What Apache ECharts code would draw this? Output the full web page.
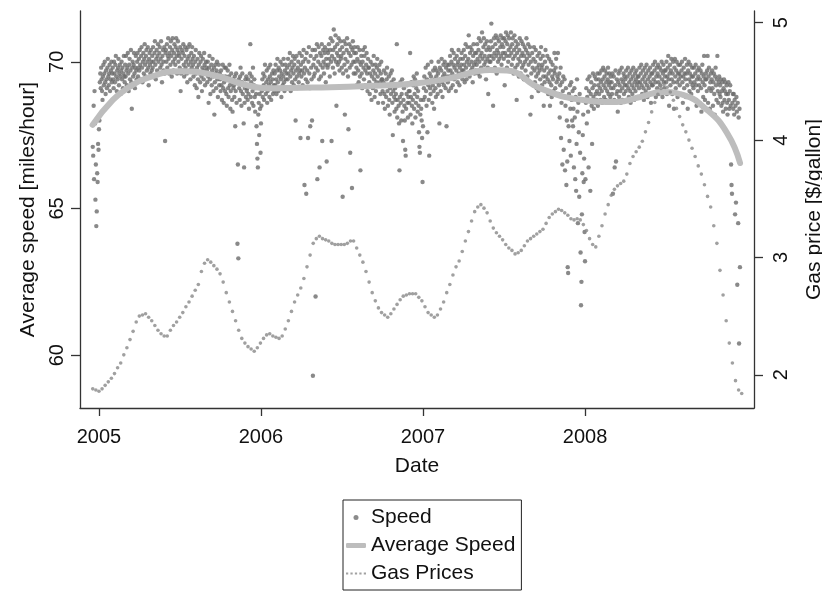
<!DOCTYPE html>
<html><head><meta charset="utf-8">
<script src="https://cdn.jsdelivr.net/npm/echarts@6/dist/echarts.min.js"></script>
<style>html,body{margin:0;padding:0;background:#fff}#c{width:822px;height:595px}</style>
</head><body><div id="c"></div>
<script>
// Daily average speed [mph]
const speedDec2004 = [67.1,66.8,68.5,66.0,69.0,67.9,65.3,66.5,64.4,64.9,66.2,65.9,67.2,67.0];
const speed2005 = [
67.7,68.0,69.3,69.6,69.1,69.8,69.4,69.0,68.7,69.5,69.9,69.2,69.6,70.0,69.3,68.9,69.7,69.4,69.1,69.8,70.1,69.5,69.2,69.6,69.9,69.0,69.4,69.7,70.0,69.3,69.6,
69.8,69.4,69.1,70.0,69.6,69.3,69.9,70.2,69.5,69.0,69.7,69.4,69.8,70.1,69.2,69.6,69.9,69.5,68.9,69.7,70.0,69.4,69.8,69.1,69.6,70.2,69.5,69.3,
69.9,69.5,70.2,69.7,69.2,69.8,70.3,69.6,69.0,69.9,70.1,69.4,69.7,70.4,69.3,68.4,69.8,70.0,69.5,69.9,70.3,69.6,69.1,69.8,70.2,69.7,69.4,70.0,70.3,69.5,69.8,
70.1,69.7,70.4,69.9,69.4,70.2,70.5,69.8,69.3,70.0,70.3,69.6,70.1,70.6,69.9,69.5,70.2,70.4,69.7,70.0,70.5,69.8,69.2,70.1,70.3,69.9,69.6,70.4,70.0,69.7,
70.2,69.8,70.5,70.0,69.5,70.3,70.7,69.9,69.4,70.1,70.4,69.7,70.2,70.6,70.0,69.6,70.3,70.5,69.8,70.1,70.7,69.9,69.3,70.2,70.4,70.0,69.7,70.5,69.6,67.3,70.3,
70.4,70.0,70.6,69.8,70.2,70.8,70.1,69.6,70.3,70.5,69.9,70.7,70.2,69.5,70.4,70.8,70.0,69.7,70.3,70.6,70.1,69.9,70.5,70.8,70.2,69.6,70.4,70.7,70.0,70.3,
70.2,69.8,70.5,69.0,69.6,70.1,70.4,69.7,70.3,70.6,69.9,69.5,70.2,70.5,69.8,70.0,70.4,69.6,69.3,70.1,70.5,69.9,70.2,70.6,69.7,69.4,70.0,70.3,69.8,70.5,70.1,
69.9,69.5,70.2,69.7,69.2,70.0,70.4,69.6,69.1,69.8,70.1,69.4,68.8,69.9,70.3,69.6,69.3,70.0,70.2,69.5,69.0,69.8,70.1,69.7,69.4,70.3,69.9,69.2,69.6,70.0,69.8,
69.7,69.3,70.0,69.5,68.6,69.8,70.2,69.4,68.9,69.6,69.9,69.2,69.7,70.1,69.5,69.0,69.8,68.2,69.3,69.9,69.6,69.1,69.7,70.0,69.4,68.8,69.5,69.9,69.2,69.6,
69.4,69.0,69.7,69.2,68.7,69.5,69.9,69.1,68.6,69.3,69.8,69.0,69.5,69.8,68.9,68.5,69.4,69.7,69.1,68.8,69.5,69.9,69.2,68.4,69.0,69.6,69.3,68.7,68.3,69.4,69.1,
69.2,68.8,69.5,67.8,69.0,69.6,68.6,69.3,63.8,66.5,63.3,69.4,69.1,68.7,69.5,69.8,69.0,68.5,69.3,69.6,68.9,69.2,67.9,66.4,68.6,69.1,69.4,68.8,69.5,69.0,
69.1,68.7,69.4,68.9,68.4,69.2,69.6,70.6,68.8,69.3,69.5,68.6,69.0,69.8,68.5,69.2,69.4,68.8,68.3,69.1,68.9,67.8,67.2,66.7,66.4,68.2,68.6,67.5,68.9,68.4,66.9];
const speed2006 = [
67.9,68.5,69.0,69.4,68.8,69.6,69.2,68.7,69.5,69.9,69.1,68.9,69.3,69.7,68.6,69.0,69.4,69.8,69.2,68.8,69.5,69.9,69.3,68.7,69.1,69.6,69.4,68.9,69.7,69.2,69.0,
69.6,69.2,69.9,69.4,68.9,69.7,70.1,69.3,69.0,69.8,69.5,69.1,69.7,70.0,69.4,68.8,69.6,69.9,69.2,69.5,70.1,69.3,69.0,69.7,69.9,69.4,69.6,69.1,
69.8,69.4,70.1,69.6,69.1,69.9,70.3,69.5,69.0,69.7,70.0,69.3,69.8,70.2,69.6,69.2,69.9,70.1,69.4,68.0,69.7,70.2,69.5,69.1,69.8,70.0,69.3,69.6,70.3,69.7,67.4,
69.9,69.5,70.2,69.7,69.2,70.0,70.4,69.6,65.8,69.8,70.1,69.4,65.5,70.3,69.7,69.3,67.4,70.0,70.5,69.6,69.1,67.8,70.2,69.8,69.4,68.0,70.4,59.3,69.9,69.5,
70.1,69.6,70.4,62.0,69.8,70.2,70.6,66.0,69.7,70.0,70.5,69.4,66.4,70.3,69.9,69.5,70.2,70.6,67.3,69.8,70.4,70.0,69.6,70.3,70.5,69.9,69.3,70.1,66.6,70.4,69.8,
70.3,69.9,70.6,70.1,69.5,70.4,70.8,70.0,67.3,70.2,70.7,69.8,70.4,71.1,70.1,69.6,70.5,70.9,70.0,68.5,70.3,70.6,69.9,70.2,70.8,70.0,69.7,70.4,70.7,70.1,
70.2,69.8,70.5,65.4,69.6,70.3,70.7,69.9,68.2,70.1,70.6,69.7,70.4,70.8,70.0,69.5,67.7,70.3,70.6,69.8,66.9,70.2,70.5,69.9,65.7,70.4,70.7,70.0,69.6,70.3,70.5,
70.0,69.6,70.3,69.8,69.2,70.1,70.5,69.7,69.3,70.0,70.4,69.5,66.3,69.9,70.2,69.6,69.1,70.0,70.4,69.8,69.4,70.2,70.5,69.7,69.2,69.9,70.3,69.6,69.0,70.1,69.8,
69.8,69.3,68.9,69.6,70.0,69.2,68.7,69.5,69.9,69.1,69.7,70.2,69.4,68.8,69.6,69.9,69.0,69.3,69.8,70.1,69.5,68.6,69.2,69.7,69.9,69.3,68.9,69.6,70.0,69.4,
69.4,69.0,68.6,69.3,69.7,68.9,68.4,69.2,69.6,68.8,69.4,69.8,69.0,68.5,69.2,69.5,68.7,68.2,69.1,69.6,68.9,69.3,69.7,68.6,67.5,69.0,69.4,68.8,68.3,69.1,68.7,
68.9,68.4,70.6,68.1,68.7,69.2,68.5,67.9,66.3,68.8,69.3,68.6,68.0,68.9,69.4,68.3,67.3,68.7,69.1,68.5,68.0,67.0,66.8,68.4,68.9,69.2,68.6,68.1,68.8,69.0,
68.6,69.0,70.3,68.2,68.8,69.3,68.5,67.9,68.7,69.2,69.5,68.4,68.9,69.4,68.1,68.6,69.1,69.6,68.8,68.3,69.0,68.5,67.6,67.1,66.9,68.2,68.7,68.4,68.0,67.4,65.9];
const speed2007 = [
67.8,68.7,69.1,69.5,68.8,69.3,69.8,69.0,68.5,69.4,67.6,69.9,69.2,68.7,66.8,69.6,69.1,68.9,69.5,70.0,69.3,68.6,69.2,69.7,69.0,68.4,69.4,69.8,69.1,68.8,69.5,
69.7,69.3,68.9,69.6,70.0,69.2,67.9,69.8,69.4,69.0,69.7,70.1,69.3,68.8,69.5,69.9,69.2,69.6,70.0,69.4,69.1,69.8,67.8,69.5,69.9,69.3,69.7,69.0,
69.9,69.5,70.2,69.7,69.1,70.0,70.4,69.6,69.2,69.9,70.3,69.4,69.8,70.1,69.5,69.0,69.7,70.2,69.9,69.3,70.0,70.4,69.6,69.2,69.8,70.1,69.5,69.9,70.3,69.7,69.4,
70.1,69.7,70.4,69.9,69.3,70.2,70.6,69.8,69.4,70.0,70.5,69.6,70.1,70.9,69.9,69.5,70.3,70.5,69.7,70.0,70.4,69.8,69.3,70.2,70.6,69.9,69.6,70.3,70.0,69.7,
70.3,69.9,70.6,70.1,69.6,70.4,70.8,70.0,69.5,70.2,70.7,69.8,70.3,71.0,70.1,69.7,70.5,70.8,69.9,70.2,70.6,70.0,69.4,70.4,70.7,70.1,69.8,68.9,70.5,70.2,70.0,
70.4,70.0,70.7,71.3,70.2,69.7,70.5,68.5,70.1,70.8,70.3,69.8,70.6,70.9,70.2,69.6,70.4,70.8,70.0,70.3,70.7,70.1,69.7,70.5,70.9,70.2,69.9,70.6,70.8,70.3,
70.5,70.1,70.8,69.2,70.3,70.7,71.0,70.2,69.8,70.6,70.9,70.0,70.4,70.8,70.2,69.7,70.5,71.0,70.3,69.9,70.6,70.8,70.1,69.6,70.4,70.9,70.2,69.8,70.7,70.5,68.7,
70.3,69.9,70.6,70.1,69.5,70.4,70.8,70.0,69.6,70.2,70.7,69.8,70.3,70.6,69.9,69.4,70.2,70.5,70.0,69.7,70.4,70.8,70.1,69.5,70.3,70.6,69.9,69.3,70.2,70.5,68.2,
70.0,69.6,68.8,70.3,69.8,69.2,70.1,70.5,69.7,69.3,70.0,70.4,69.5,69.1,69.8,70.2,69.6,69.0,69.9,70.3,69.7,69.4,70.1,70.5,69.8,69.2,69.9,70.2,69.5,68.5,
69.7,69.3,70.0,70.4,69.5,69.0,69.8,70.2,69.4,68.9,69.6,70.1,69.3,68.5,69.7,70.0,69.2,68.8,69.5,69.9,69.4,69.0,69.7,70.3,69.6,69.1,69.8,70.1,69.3,68.9,69.5,
70.3,69.4,68.9,69.6,68.1,69.2,69.8,67.4,68.6,69.3,66.5,69.0,69.5,67.0,68.8,69.4,66.3,68.5,69.1,65.8,68.0,66.6,63.0,62.8,67.8,68.9,67.3,69.2,68.4,66.8,
69.3,68.7,68.0,69.0,67.8,68.4,66.4,69.1,68.1,66.0,68.8,65.6,67.2,69.4,68.3,64.5,68.6,67.6,65.4,68.9,66.9,63.5,61.7,62.5,64.8,66.2,67.5,68.2,65.9,66.7,64.2];
const speed2008 = [
63.2,66.0,68.6,69.1,67.9,68.8,69.4,68.3,66.4,69.0,69.5,68.7,65.6,68.9,69.3,68.5,67.2,69.1,69.6,68.8,68.4,69.2,69.5,68.6,68.9,69.4,68.7,69.0,69.6,68.5,69.2,
69.4,68.9,69.6,69.1,68.7,69.3,69.7,69.0,68.6,69.4,69.8,69.2,68.8,69.5,69.7,69.1,68.7,69.3,69.6,69.0,69.4,69.8,68.9,69.2,69.6,69.3,68.8,69.5,69.1,
69.3,68.9,69.6,65.5,69.1,69.5,68.7,66.4,69.2,69.7,66.6,68.9,69.4,69.0,68.3,69.3,69.6,68.8,69.2,69.7,69.0,68.6,69.4,69.8,69.1,68.7,69.3,69.6,68.9,69.5,69.2,
69.4,69.0,69.7,69.2,68.7,69.5,69.8,69.1,68.8,69.3,69.6,69.0,68.6,69.4,69.7,69.2,68.9,69.5,69.8,69.1,68.7,69.3,69.6,69.0,69.4,69.7,69.2,68.8,69.5,69.3,
69.5,69.1,69.8,69.3,68.8,69.6,69.9,69.2,68.9,69.4,69.7,69.1,68.7,69.5,69.8,69.3,69.0,69.6,69.9,69.2,68.8,69.4,69.7,69.1,68.9,69.5,69.8,69.3,68.6,69.6,69.2,
69.6,69.2,69.9,69.4,68.9,69.7,70.0,69.3,68.8,69.5,69.8,69.1,69.6,69.9,69.3,68.9,69.5,69.8,69.2,69.0,69.7,70.0,69.4,68.8,69.6,69.9,69.3,69.1,69.7,69.5,
69.7,69.3,70.0,68.9,69.5,69.8,70.2,69.4,68.5,69.6,69.9,69.2,69.7,70.1,69.4,68.9,69.6,70.0,69.3,68.4,69.8,70.1,69.5,69.1,69.7,70.0,69.3,68.8,69.6,69.9,69.4,
69.6,69.2,69.9,69.5,68.9,69.7,70.0,69.3,68.6,69.5,69.8,69.1,69.6,70.1,69.4,68.8,69.6,69.9,69.2,68.4,69.7,70.0,69.4,69.0,69.6,69.9,69.3,68.9,69.5,69.8,69.2,
69.5,69.1,69.8,69.3,68.7,69.6,69.9,69.2,68.5,69.4,69.7,69.0,69.5,69.8,69.2,68.6,69.4,69.7,69.1,68.3,69.6,69.9,69.3,68.8,69.5,70.2,69.2,68.7,69.4,69.6,
69.4,69.0,69.7,70.2,68.6,69.5,69.8,69.1,68.4,69.3,69.6,69.0,69.4,69.7,69.1,68.5,69.3,69.6,68.9,68.2,69.5,69.8,69.2,68.7,69.4,70.2,69.0,68.6,69.3,69.5,68.9,
69.2,68.8,69.4,68.5,69.0,69.3,68.6,68.3,69.1,69.4,68.7,69.0,69.3,68.4,68.9,69.2,68.6,68.2,68.9,69.3,68.7,68.4,69.0,69.2,68.5,66.5,65.8,65.5,68.6,68.9,
68.4,68.9,68.2,68.7,64.8,68.5,65.2,68.8,68.3,62.4,68.6,64.5,68.1,60.4,68.4,63.0];

// Smoothed average speed: [decimal year, mph]
const avgYears = [2004.961,2005.086,2005.19,2005.296,2005.5,2005.704,2005.914,2006.074,2006.32,2006.654,2006.963,2007.167,2007.414,2007.519,2007.722,2007.988,2008.198,2008.34,2008.481,2008.605,2008.753,2008.877,2008.957];
const avgSpeed = [67.85,68.7,69.15,69.44,69.68,69.55,69.2,69.1,69.12,69.17,69.27,69.44,69.72,69.7,69.1,68.7,68.63,68.8,68.97,68.87,68.36,67.57,66.55];

// Weekly gas price [$/gallon], first week starting 2004-12-18
const gasStart = 2004.9617;
const gasPrice = [
1.88,1.87,1.86,1.88,1.91,1.94,1.97,2.01,2.06,2.10,2.17,2.23,2.30,2.37,2.45,2.50,2.51,2.52,2.49,2.46,
2.42,2.38,2.35,2.33,2.33,2.38,2.42,2.45,2.49,2.53,2.58,2.62,2.67,2.72,2.77,2.88,2.95,2.98,2.96,2.93,
2.90,2.86,2.79,2.70,2.62,2.54,2.46,2.38,2.31,2.27,2.24,2.22,2.20,2.23,2.27,2.31,2.34,2.35,2.33,2.32,
2.31,2.33,2.39,2.46,2.54,2.62,2.68,2.74,2.82,2.92,3.02,3.12,3.16,3.18,3.16,3.15,3.14,3.12,3.11,3.11,
3.11,3.11,3.12,3.14,3.14,3.08,3.02,2.96,2.88,2.79,2.70,2.63,2.57,2.53,2.51,2.49,2.52,2.56,2.60,2.64,
2.67,2.68,2.69,2.69,2.69,2.66,2.63,2.58,2.53,2.51,2.49,2.51,2.56,2.62,2.70,2.77,2.85,2.92,2.97,3.05,
3.14,3.22,3.31,3.39,3.43,3.45,3.42,3.38,3.31,3.25,3.21,3.18,3.15,3.11,3.08,3.06,3.03,3.04,3.06,3.10,
3.14,3.16,3.18,3.20,3.22,3.24,3.29,3.34,3.37,3.39,3.41,3.40,3.38,3.36,3.33,3.32,3.33,3.32,3.28,3.23,
3.16,3.11,3.09,3.18,3.27,3.37,3.45,3.53,3.58,3.61,3.63,3.65,3.71,3.80,3.86,3.90,3.94,3.99,4.07,4.15,
4.24,4.32,4.39,4.44,4.47,4.45,4.41,4.34,4.27,4.20,4.13,4.07,4.00,3.93,3.86,3.78,3.71,3.62,3.52,3.43,
3.27,3.12,2.89,2.68,2.46,2.27,2.10,1.95,1.87,1.84];

const xTicks = [2005, 2006, 2007, 2008];
const speedTicks = [60, 65, 70];
const gasTicks = [2, 3, 4, 5];

function dailyPoints(arr, year, startDay, yearLen) {
  return arr.map((v, i) => [year + (startDay + i) / yearLen, v]);
}
const speedData = [].concat(
  dailyPoints(speedDec2004, 2004, 352, 366),
  dailyPoints(speed2005, 2005, 0, 365),
  dailyPoints(speed2006, 2006, 0, 365),
  dailyPoints(speed2007, 2007, 0, 365),
  dailyPoints(speed2008, 2008, 0, 366)
);
const avgData = avgYears.map((x, i) => [x, avgSpeed[i]]);
const gasData = gasPrice.map((p, k) => [gasStart + k * 7 / 365.25, p]);

const FONT = '"Liberation Sans", Arial, Helvetica, sans-serif';
const axisCol = '#333';
const chart = echarts.init(document.getElementById('c'), null, {renderer: 'canvas'});
chart.setOption({
  animation: false,
  backgroundColor: '#fff',
  textStyle: {fontFamily: FONT},
  grid: {left: 80, right: 68, top: 11, bottom: 187, containLabel: false, outerBoundsMode: 'none'},
  xAxis: {
    type: 'value', min: 2004.883, max: 2009.043,
    name: 'Date', nameLocation: 'middle', nameGap: 48,
    nameTextStyle: {fontSize: 21, color: '#111', fontFamily: FONT},
    axisLine: {show: true, lineStyle: {color: axisCol, width: 1.3}},
    axisTick: {show: true, length: 8, customValues: xTicks, lineStyle: {color: axisCol, width: 1.3}},
    axisLabel: {customValues: xTicks, fontSize: 20, color: '#111', margin: 19, fontFamily: FONT,
                formatter: v => String(Math.round(v))},
    splitLine: {show: false}
  },
  yAxis: [{
    type: 'value', min: 58.2, max: 71.73, position: 'left',
    name: 'Average speed [miles/hour]', nameLocation: 'middle', nameRotate: 90, nameGap: 33,
    nameTextStyle: {fontSize: 21, color: '#111', fontFamily: FONT},
    axisLine: {show: true, lineStyle: {color: axisCol, width: 1.3}},
    axisTick: {show: true, length: 9, customValues: speedTicks, lineStyle: {color: axisCol, width: 1.3}},
    axisLabel: {customValues: speedTicks, rotate: 90, fontSize: 20, color: '#111', margin: 13, fontFamily: FONT},
    splitLine: {show: false}
  }, {
    type: 'value', min: 1.717, max: 5.10, position: 'right',
    name: 'Gas price [$/gallon]', nameLocation: 'middle', nameRotate: 90, nameGap: 50,
    nameTextStyle: {fontSize: 21, color: '#111', fontFamily: FONT},
    axisLine: {show: true, lineStyle: {color: axisCol, width: 1.3}},
    axisTick: {show: true, length: 9, customValues: gasTicks, lineStyle: {color: axisCol, width: 1.3}},
    axisLabel: {customValues: gasTicks, rotate: 90, fontSize: 20, color: '#111', margin: 17, fontFamily: FONT},
    splitLine: {show: false}
  }],
  legend: {
    orient: 'vertical', left: 343, top: 500,
    itemWidth: 20, itemHeight: 5, itemGap: 7,
    padding: [7, 6, 6, 3],
    borderColor: '#222', borderWidth: 1,
    textStyle: {fontSize: 21, color: '#111', fontFamily: FONT},
    data: [
      {name: 'Speed', icon: 'circle', itemStyle: {color: '#6e6e6e'}},
      {name: 'Average Speed', icon: 'roundRect', itemStyle: {color: '#bdbdbd'}},
      {name: 'Gas Prices', icon: 'path://M0,0h2v2h-2z M4,0h2v2h-2z M8,0h2v2h-2z M12,0h2v2h-2z M16,0h2v2h-2z', itemStyle: {color: '#8a8a8a'}}
    ]
  },
  series: [
    {name: 'Speed', type: 'scatter', yAxisIndex: 0, data: speedData, symbolSize: 4.4,
     itemStyle: {color: '#6b6b6b'}, z: 2},
    {name: 'Average Speed', type: 'line', yAxisIndex: 0, data: avgData, smooth: 0.5, showSymbol: false, symbol: 'none',
     lineStyle: {color: '#bdbdbd', width: 6, cap: 'round'}, itemStyle: {color: '#bdbdbd'}, z: 3},
    {name: 'Gas Prices', type: 'scatter', yAxisIndex: 1, data: gasData, symbolSize: 3.6,
     itemStyle: {color: '#888888'}, z: 4}
  ]
});
</script>
</body></html>
